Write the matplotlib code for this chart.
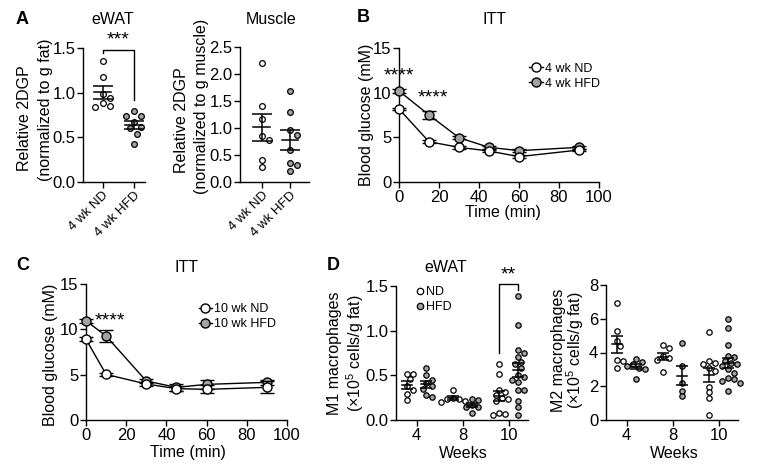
import numpy as np
import matplotlib
matplotlib.use('Agg')
import matplotlib.pyplot as plt
from matplotlib.lines import Line2D

plt.rcParams['font.family'] = 'Liberation Sans'
plt.rcParams['mathtext.fontset'] = 'custom'
plt.rcParams['mathtext.rm'] = 'Liberation Sans'
plt.rcParams['mathtext.it'] = 'Liberation Sans:italic'

GRAY = '#a3a3a3'

# ---- data ----
# A: 2DGP uptake (4 wk)
a_groups = ['4 wk ND', '4 wk HFD']
a_fat_nd = [1.355, 1.18, 0.99, 0.94, 0.88, 0.855, 0.84]
a_fat_hfd = [0.795, 0.742, 0.742, 0.668, 0.62, 0.60, 0.54, 0.42]
a_mus_nd = [2.20, 1.40, 1.16, 0.85, 0.78, 0.41, 0.27]
a_mus_hfd = [1.69, 1.30, 0.96, 0.87, 0.60, 0.36, 0.31, 0.20]

# B: ITT 4 wk
b_time = [0, 15, 30, 45, 60, 90]
b_nd = [8.17, 4.51, 3.88, 3.47, 2.84, 3.58]
b_nd_err = [0.15, 0.2, 0.15, 0.15, 0.15, 0.15]
b_hfd = [10.19, 7.5, 4.96, 3.88, 3.51, 3.88]
b_hfd_err = [0.2, 0.49, 0.2, 0.15, 0.15, 0.15]

# C: ITT 10 wk
c_time = [0, 10, 30, 45, 60, 90]
c_nd = [8.9, 5.03, 3.97, 3.46, 3.38, 3.6]
c_nd_err = [0.2, 0.2, 0.2, 0.25, 0.45, 0.65]
c_hfd = [10.95, 9.26, 4.3, 3.6, 3.93, 4.15]
c_hfd_err = [0.2, 0.64, 0.2, 0.35, 0.5, 0.3]

# D: macrophages in eWAT
d_weeks = ['4', '8', '10']
m1_nd = [[0.515, 0.515, 0.46, 0.38, 0.34, 0.29, 0.22],
         [0.34, 0.25, 0.24, 0.24, 0.21, 0.20],
         [0.63, 0.51, 0.34, 0.31, 0.28, 0.25, 0.24, 0.21, 0.08, 0.07, 0.06]]
m1_hfd = [[0.586, 0.50, 0.45, 0.41, 0.38, 0.35, 0.28, 0.26],
          [0.235, 0.22, 0.17, 0.15, 0.14, 0.075],
          [1.39, 1.06, 0.78, 0.75, 0.71, 0.65, 0.63, 0.58, 0.50, 0.48, 0.45,
           0.43, 0.34, 0.34, 0.21, 0.14, 0.06]]
m2_nd = [[6.95, 5.30, 4.70, 4.39, 3.56, 3.52, 3.06],
         [4.43, 4.25, 3.79, 3.70, 3.56, 2.83],
         [5.20, 3.5, 3.4, 3.3, 3.1, 2.9, 1.98, 1.66, 1.28, 0.30]]
m2_hfd = [[3.6, 3.46, 3.3, 3.2, 3.1, 3.0, 2.41],
          [4.55, 3.2, 2.17, 1.74, 1.42],
          [6.0, 5.45, 4.45, 3.8, 3.75, 3.5, 3.4, 3.3, 3.2, 3.0, 2.8, 2.5,
           2.45, 2.3, 2.2, 1.7]]

W, H = 759, 472
fig = plt.figure(figsize=(W / 100, H / 100), dpi=100)
FS = 11.5


def add_ax(l, t, r, b):
    ax = fig.add_axes([l / W, 1 - b / H, (r - l) / W, (b - t) / H])
    for s in ['top', 'right']:
        ax.spines[s].set_visible(False)
    for s in ['left', 'bottom']:
        ax.spines[s].set_linewidth(1.0)
    ax.tick_params(direction='out', length=4, width=1.0, labelsize=12, pad=1.5)
    return ax


def ftext(x, y, s, **kw):
    kw.setdefault('ha', 'center')
    kw.setdefault('va', 'center')
    kw.setdefault('fontsize', FS)
    fig.text(x / W, 1 - y / H, s, **kw)


def swarm(ax, vals, d=6.4):
    # simple beeswarm, works in pixels then converts back to x data units
    bb = ax.get_position()
    x0, x1 = ax.get_xlim()
    y0, y1 = ax.get_ylim()
    ppx = bb.width * W / (x1 - x0)
    ppy = bb.height * H / (y1 - y0)
    vals = np.asarray(vals, float)
    offs = np.zeros(len(vals))
    placed = []
    for i in np.argsort(vals)[::-1]:
        y = vals[i] * ppy
        for k in [0, 1, -1, 2, -2, 3, -3, 4, -4, 5, -5]:
            x = k * d * 0.55
            if all((x - px) ** 2 + (y - py) ** 2 >= d * d for px, py in placed):
                break
        placed.append((x, y))
        offs[i] = x / ppx
    return offs


def dot_group(ax, x0, vals, face, mw, cap, s=17, d=6.4):
    vals = np.asarray(vals, float)
    ax.scatter(x0 + swarm(ax, vals, d), vals, s=s, facecolor=face,
               edgecolor='black', linewidth=0.9, zorder=3, clip_on=False)
    m = vals.mean()
    sem = vals.std(ddof=1) / np.sqrt(len(vals))
    ax.plot([x0 - mw, x0 + mw], [m, m], color='black', lw=1.1, zorder=4)
    ax.errorbar(x0, m, yerr=sem, fmt='none', ecolor='black', elinewidth=1.1,
                capsize=cap, capthick=1.1, zorder=4)


# ---- A: eWAT ----
ax = add_ax(83, 48, 145, 182)
ax.set_xlim(-0.63, 1.37)
ax.set_ylim(0, 1.5)
ax.set_yticks([0, 0.5, 1.0, 1.5])
ax.set_yticklabels(['0.0', '0.5', '1.0', '1.5'])
dot_group(ax, 0, a_fat_nd, 'white', 0.27, 7, d=7)
dot_group(ax, 1, a_fat_hfd, GRAY, 0.27, 7, d=7)
ax.set_xticks([0, 1])
ax.set_xticklabels(a_groups, rotation=45, ha='right', rotation_mode='anchor', fontsize=9.5)
ax.plot([0, 0, 1, 1], [1.44, 1.48, 1.48, 0.92], color='black', lw=1.0, clip_on=False)
ax.text(0.5, 1.50, '***', ha='center', va='bottom', fontsize=14)
ftext(113, 20, 'eWAT')
ftext(25, 118, 'Relative 2DGP', rotation=90)
ftext(46, 110, '(normalized to g fat)', rotation=90)

# ---- A: Muscle ----
ax = add_ax(240, 47, 309, 182)
ax.set_xlim(-0.78, 1.68)
ax.set_ylim(0, 2.5)
ax.set_yticks([0, 0.5, 1.0, 1.5, 2.0, 2.5])
ax.set_yticklabels(['0.0', '0.5', '1.0', '1.5', '2.0', '2.5'])
dot_group(ax, 0, a_mus_nd, 'white', 0.3, 7)
dot_group(ax, 1, a_mus_hfd, GRAY, 0.3, 7)
ax.set_xticks([0, 1])
ax.set_xticklabels(a_groups, rotation=45, ha='right', rotation_mode='anchor', fontsize=9.5)
ftext(271, 20, 'Muscle')
ftext(182, 120, 'Relative 2DGP', rotation=90)
ftext(202, 106, '(normalized to g muscle)', rotation=90)


def itt(ax, t, nd, nd_e, hfd, hfd_e):
    ax.errorbar(t, hfd, yerr=hfd_e, fmt='none', ecolor='black', elinewidth=1.0,
                capsize=5, capthick=1.0, zorder=2, clip_on=False)
    h2, = ax.plot(t, hfd, '-o', color='black', mfc=GRAY, mec='black', ms=6.5,
                  mew=1.0, lw=1.0, zorder=3, clip_on=False)
    ax.errorbar(t, nd, yerr=nd_e, fmt='none', ecolor='black', elinewidth=1.0,
                capsize=5, capthick=1.0, zorder=4, clip_on=False)
    h1, = ax.plot(t, nd, '-o', color='black', mfc='white', mec='black', ms=6.5,
                  mew=1.0, lw=1.0, zorder=5, clip_on=False)
    ax.set_xlim(0, 100)
    ax.set_ylim(0, 15)
    ax.set_xticks([0, 20, 40, 60, 80, 100])
    ax.set_yticks([0, 5, 10, 15])
    return [h1, h2]


# ---- B ----
ax = add_ax(399, 48, 599, 182)
hs = itt(ax, b_time, b_nd, b_nd_err, b_hfd, b_hfd_err)
ax.legend(hs, ['4 wk ND', '4 wk HFD'], loc='upper left', bbox_to_anchor=(0.65, 0.89),
          frameon=False, fontsize=9, handlelength=1.1, handletextpad=0.15,
          labelspacing=0.25, borderpad=0, borderaxespad=0)
ax.text(0, 10.9, '****', ha='center', va='bottom', fontsize=14)
ax.text(17, 8.5, '****', ha='center', va='bottom', fontsize=14)
ftext(495, 20, 'ITT')
ftext(366, 115, 'Blood glucose (mM)', rotation=90)
ftext(503, 213, 'Time (min)')

# ---- C ----
ax = add_ax(86, 284, 287, 420)
hs = itt(ax, c_time, c_nd, c_nd_err, c_hfd, c_hfd_err)
ax.legend(hs, ['10 wk ND', '10 wk HFD'], loc='upper left', bbox_to_anchor=(0.56, 0.86),
          frameon=False, fontsize=9, handlelength=1.1, handletextpad=0.15,
          labelspacing=0.25, borderpad=0, borderaxespad=0)
ax.text(12, 10.9, '****', ha='center', va='center', fontsize=14)
ftext(187, 267, 'ITT')
ftext(51, 355, 'Blood glucose (mM)', rotation=90)
ftext(188, 453, 'Time (min)')


def macro(ax, nd, hfd, ymax, yticks):
    ax.set_xlim(-0.45, 2.42)
    ax.set_ylim(0, ymax)
    for i in range(len(d_weeks)):
        dot_group(ax, i - 0.21, nd[i], 'white', 0.11, 4.5, s=15, d=5.4)
        dot_group(ax, i + 0.21, hfd[i], GRAY, 0.11, 4.5, s=15, d=5.4)
    ax.set_xticks(range(len(d_weeks)))
    ax.set_xticklabels(d_weeks)
    ax.set_yticks(yticks)


# ---- D: M1 ----
ax = add_ax(396, 286, 528, 420)
macro(ax, m1_nd, m1_hfd, 1.5, [0, 0.5, 1.0, 1.5])
ax.set_yticklabels(['0.0', '0.5', '1.0', '1.5'])
ax.plot([1.79, 1.79, 2.21, 2.21], [0.75, 1.52, 1.52, 1.45], color='black', lw=1.0, clip_on=False)
ax.text(2.0, 1.53, '**', ha='center', va='bottom', fontsize=14)
leg_h = [Line2D([], [], ls='none', marker='o', mfc='white', mec='black', ms=4.6, mew=0.9),
         Line2D([], [], ls='none', marker='o', mfc=GRAY, mec='black', ms=4.6, mew=0.9)]
ax.legend(leg_h, ['ND', 'HFD'], loc='upper left', bbox_to_anchor=(0.15, 1.0),
          frameon=False, fontsize=9, handlelength=0.6, handletextpad=0.2,
          labelspacing=0.25, borderpad=0, borderaxespad=0)
ftext(446, 267, 'eWAT')
ftext(335, 353, 'M1 macrophages', rotation=90)
ftext(355, 353, '(×10$^5$ cells/g fat)', rotation=90)
ftext(463, 453, 'Weeks')

# ---- D: M2 ----
ax = add_ax(606, 285, 738, 420)
macro(ax, m2_nd, m2_hfd, 8, [0, 2, 4, 6, 8])
ftext(558, 350, 'M2 macrophages', rotation=90)
ftext(575, 350, '(×10$^5$ cells/g fat)', rotation=90)
ftext(674, 453, 'Weeks')

# panel letters
for x, y, s in [(22, 20, 'A'), (363, 18, 'B'), (23, 265, 'C'), (333, 265, 'D')]:
    ftext(x, y, s, fontsize=13, fontweight='bold')

fig.savefig('out.png', dpi=100)
